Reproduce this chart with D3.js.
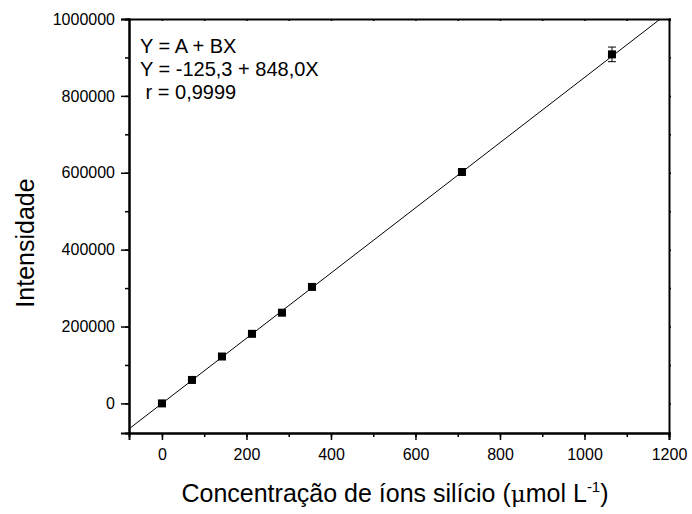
<!DOCTYPE html>
<html><head><meta charset="utf-8">
<script src="https://cdn.jsdelivr.net/npm/d3@7"></script>
<style>body{margin:0;background:#fff}svg{display:block}text{font-family:"Liberation Sans",Arial,sans-serif;fill:#000}</style>
</head><body><svg id="c" width="692" height="514"></svg>
<script>
const concentration = [0, 71, 142, 213, 284, 355, 710, 1065];
const intensity = [0, 61000, 122000, 181000, 236000, 303000, 602000, 908000];
const intensityErr = [1500, 2000, 2500, 3000, 3500, 4000, 6000, 19000];
const fitA = -125.3, fitB = 848.0;
const xTicks = [0, 200, 400, 600, 800, 1000, 1200];
const yTicks = [0, 200000, 400000, 600000, 800000, 1000000];
const legendLines = ["Y = A + BX", "Y = -125,3 + 848,0X", " r = 0,9999"];

const svg = d3.select("#c");
const L = 129, R = 669, T = 19, B = 433;
const x = d3.scaleLinear().domain([-78, 1200]).range([L, R]);
const y = d3.scaleLinear().domain([-77000, 1000000]).range([B, T]);

svg.append("clipPath").attr("id", "pc").append("rect").attr("x", L).attr("y", T).attr("width", R - L).attr("height", B - T);

// fit line
const xs = x.domain();
svg.append("line").attr("clip-path", "url(#pc)")
  .attr("x1", x(xs[0])).attr("y1", y(fitA + fitB * xs[0]))
  .attr("x2", x(xs[1])).attr("y2", y(fitA + fitB * xs[1]))
  .attr("stroke", "#000").attr("stroke-width", 1);

const minorX = d3.range(0, 1201, 100);
const minorY = d3.range(0, 1000001, 100000);
function styleAxis(g){ g.selectAll("path.domain").attr("stroke","#000").attr("stroke-width",2); g.selectAll(".tick line").attr("stroke","#000").attr("stroke-width",1.5); }

svg.append("g").attr("transform", `translate(0,${B})`).call(d3.axisBottom(x).tickValues(minorX).tickSize(4).tickFormat("")).call(styleAxis);
svg.append("g").attr("transform", `translate(0,${B})`).call(d3.axisBottom(x).tickValues(xTicks).tickSize(7).tickPadding(9).tickFormat(d3.format("d"))).call(styleAxis)
  .selectAll("text").attr("font-size", 16);
svg.append("g").attr("transform", `translate(${L},0)`).call(d3.axisLeft(y).tickValues(minorY).tickSize(4).tickFormat("")).call(styleAxis);
svg.append("g").attr("transform", `translate(${L},0)`).call(d3.axisLeft(y).tickValues(yTicks).tickSize(8).tickPadding(6).tickFormat(d3.format("d"))).call(styleAxis)
  .selectAll("text").attr("font-size", 16);
svg.append("g").attr("transform", `translate(0,${T})`).call(d3.axisBottom(x).tickValues(minorX).tickSize(2).tickFormat("")).call(styleAxis);
svg.append("g").attr("transform", `translate(${R},0)`).call(d3.axisRight(y).tickValues(minorY).tickSize(2).tickFormat("")).call(styleAxis);

// error bars
const eb = svg.append("g").attr("stroke", "#000").attr("stroke-width", 1);
concentration.forEach((c, i) => {
  const cx = x(c), y1 = y(intensity[i] - intensityErr[i]), y2 = y(intensity[i] + intensityErr[i]);
  eb.append("line").attr("x1", cx).attr("x2", cx).attr("y1", y1).attr("y2", y2);
  eb.append("line").attr("x1", cx - 4).attr("x2", cx + 4).attr("y1", y1).attr("y2", y1);
  eb.append("line").attr("x1", cx - 4).attr("x2", cx + 4).attr("y1", y2).attr("y2", y2);
});

// markers
svg.append("g").selectAll("rect").data(concentration).join("rect")
  .attr("x", (d) => x(d) - 4).attr("y", (d, i) => y(intensity[i]) - 4)
  .attr("width", 8).attr("height", 8).attr("fill", "#000");

// legend
legendLines.forEach((t, i) => {
  svg.append("text").attr("x", 140).attr("y", 53 + i * 23).attr("font-size", 20).style("white-space", "pre").text(t);
});

// axis titles
const xt = svg.append("text").attr("x", 395).attr("y", 502).attr("text-anchor", "middle").attr("font-size", 25);
xt.append("tspan").text("Concentração de íons silício (");
xt.append("tspan").text("μ").attr("font-family", "DejaVu Serif, serif").attr("font-size", 23);
xt.append("tspan").text("mol L");
xt.append("tspan").text("-1").attr("font-size", 15).attr("dy", -10);
xt.append("tspan").text(")").attr("dy", 10);

svg.append("text").attr("transform", "translate(34,243) rotate(-90)").attr("text-anchor", "middle").attr("font-size", 25).text("Intensidade");
</script></body></html>
